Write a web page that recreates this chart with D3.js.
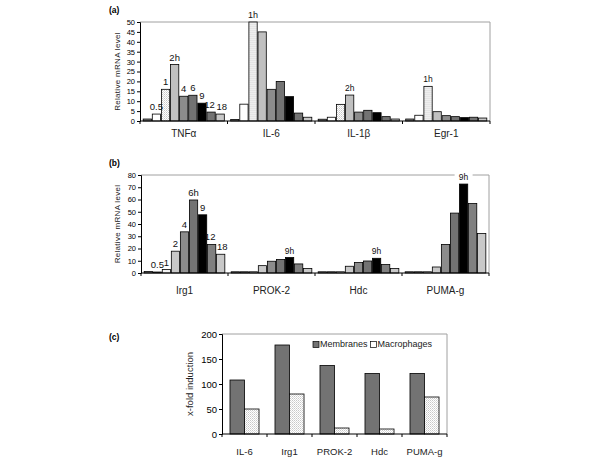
<!DOCTYPE html>
<html><head><meta charset="utf-8">
<script src="https://cdn.jsdelivr.net/npm/d3@7"></script>
<style>body{margin:0;background:#fff}svg{display:block;font-family:"Liberation Sans",Arial,sans-serif}</style>
</head><body>
<script>
// ---- data ----
const timepoints = ["0","0.5","1","2","4","6","9","12","18"];
const genesA = ["TNFα","IL-6","IL-1β","Egr-1"];
const TNFa = [1, 3.5, 16, 28.5, 12.5, 13, 9, 4.5, 3.5];
const IL6  = [0.8, 8.5, 50, 45, 16, 20, 12.3, 4, 1.9];
const IL1b = [0.9, 1.9, 8.4, 13.1, 4.5, 5.4, 4.2, 2.2, 1.0];
const Egr1 = [1.0, 2.9, 17.5, 4.7, 2.7, 2.2, 1.7, 1.9, 1.5];
const labelsTNFa = ["","0.5","1","2h","4","6","9","12","18"];
const labelsIL6  = ["","","1h","","","","","",""];
const labelsIL1b = ["","","","2h","","","","",""];
const labelsEgr1 = ["","","1h","","","","","",""];

const genesB = ["Irg1","PROK-2","Hdc","PUMA-g"];
const Irg1  = [1.2, 0.8, 2.8, 17.8, 33.6, 59.6, 47.5, 23.3, 15.3];
const PROK2 = [1, 1, 1, 6, 9.6, 11, 12.6, 7.4, 3.6];
const Hdc   = [1, 1, 1, 5.5, 8.5, 9.8, 12, 6.9, 3.6];
const PUMAg = [1, 1, 1, 4.9, 23.3, 48.9, 72.6, 56.7, 32.2];
const labelsIrg1  = ["","0.5","1","2","4","6h","9","12","18"];
const labelsPROK2 = ["","","","","","","9h","",""];
const labelsHdc   = ["","","","","","","9h","",""];
const labelsPUMAg = ["","","","","","","9h","",""];

const genesC = ["IL-6","Irg1","PROK-2","Hdc","PUMA-g"];
const seriesC = ["Membranes","Macrophages"];
const membranes   = [108, 178, 137, 121, 121];
const macrophages = [50, 80, 12, 10, 74];

const ticksA = [0,5,10,15,20,25,30,35,40,45,50];
const ticksB = [0,10,20,30,40,50,60,70,80];
const ticksC = [0,50,100,150,200];

const colorsA = ["#8c8c8c","#ffffff","url(#dots)","#c0c0c0","#8c8c8c","#737373","#000000","#737373","#c8c8c8"];
const colorsB = ["#9a9a9a","#8c8c8c","#f2f2f2","#c8c8c8","#8c8c8c","#737373","#000000","#808080","#c8c8c8"];
const colorsC = ["#737373","url(#dots)"];

// ---- svg ----
const svg = d3.select("body").append("svg").attr("width",600).attr("height",463);
const defs = svg.append("defs");
const pat = defs.append("pattern").attr("id","dots").attr("patternUnits","userSpaceOnUse").attr("width",2).attr("height",2);
pat.append("rect").attr("width",2).attr("height",2).attr("fill","#ffffff");
pat.append("rect").attr("width",1).attr("height",1).attr("fill","#c8c8c8");
pat.append("rect").attr("x",1).attr("y",1).attr("width",1).attr("height",1).attr("fill","#dddddd");

function frame(g, x0, x1, y0, y1){
  g.append("path").attr("d",`M${x0},${y0}H${x1}V${y1}`).attr("fill","none").attr("stroke","#a0a0a0").attr("stroke-width",1);
}

function yAxis(g, y, x0, ticks, fs){
  g.append("g").attr("transform",`translate(${x0},0)`)
   .call(d3.axisLeft(y).tickValues(ticks).tickSize(3).tickPadding(2).tickFormat(d3.format("d")))
   .call(s=>{s.select(".domain").attr("stroke","#000");s.selectAll(".tick line").attr("stroke","#000");
     s.selectAll("text").attr("font-size",fs).attr("fill","#000").attr("font-family","Liberation Sans, Arial");});
}
function xAxis(g, x, y0, cats, fs, labY){
  const ax = g.append("g").attr("transform",`translate(0,${y0})`);
  const r = x.range();
  ax.append("line").attr("x1",r[0]).attr("x2",r[1]).attr("stroke","#000");
  const bounds = cats.map(c=>x(c)).concat([r[1]]);
  ax.selectAll("line.tk").data(bounds).join("line").attr("class","tk")
    .attr("x1",d=>d).attr("x2",d=>d).attr("y1",0).attr("y2",3).attr("stroke","#000");
  g.selectAll(null).data(cats).join("text")
    .attr("x",d=>x(d)+x.bandwidth()/2).attr("y",labY).attr("text-anchor","middle")
    .attr("dominant-baseline","middle").attr("font-size",fs).attr("fill","#222").text(d=>d);
}

function timePanel(opt){
  const g = svg.append("g");
  const x = d3.scaleBand().domain(opt.genes).range([opt.x0,opt.x1]).padding(0);
  const xi = d3.scaleBand().domain(timepoints).range([0,x.bandwidth()]).paddingInner(0.09).paddingOuter(0.35);
  const y = d3.scaleLinear().domain([0,opt.max]).range([opt.y1,opt.y0]);
  frame(g, opt.x0, opt.x1, opt.y0, opt.y1);
  opt.genes.forEach((gene,gi)=>{
    const vals = opt.values[gi], labs = opt.labels[gi];
    const gg = g.append("g").attr("transform",`translate(${x(gene)},0)`);
    gg.selectAll("rect").data(vals).join("rect")
      .attr("x",(d,i)=>xi(timepoints[i])).attr("width",xi.bandwidth())
      .attr("y",d=>y(d)).attr("height",d=>y(0)-y(d))
      .attr("fill",(d,i)=>opt.colors[i]).attr("stroke","#000").attr("stroke-width",0.8);
    vals.forEach((v,i)=>{
      if(!labs[i]) return;
      let cx = xi(timepoints[i])+xi.bandwidth()/2;
      if(i===7) cx -= 1.5;
      if(i===8) cx += 1.5;
      const fs = opt.labelSize[gi];
      const ty = y(v)-4;
      if(opt.bgLabel && opt.bgLabel[gi]){
        gg.append("rect").attr("x",cx-9).attr("y",ty-fs+1).attr("width",18).attr("height",fs+1).attr("fill","#fff");
      }
      gg.append("text").attr("x",cx).attr("y",ty).attr("text-anchor","middle")
        .attr("font-size",fs).attr("fill","#111").text(labs[i]);
    });
  });
  yAxis(g, y, opt.x0, opt.ticks, 7.5);
  xAxis(g, x, opt.y1, opt.genes, 10, opt.catY);
  g.append("text").attr("transform",`translate(${opt.ylabX},${(opt.y0+opt.y1)/2}) rotate(-90)`)
    .attr("text-anchor","middle").attr("dominant-baseline","middle").attr("font-size",8).attr("fill","#222")
    .attr("letter-spacing",0.3).text("Relative mRNA level");
  g.append("text").attr("x",109).attr("y",opt.tagY).attr("font-size",8.5).attr("font-weight","bold").text(opt.tag);
}

timePanel({genes:genesA, values:[TNFa,IL6,IL1b,Egr1], labels:[labelsTNFa,labelsIL6,labelsIL1b,labelsEgr1],
  labelSize:[9.5,9,8.5,8.5], colors:colorsA, x0:140, x1:490, y0:22, y1:121, max:50, ticks:ticksA,
  catY:134, ylabX:118, tag:"(a)", tagY:13});
timePanel({genes:genesB, values:[Irg1,PROK2,Hdc,PUMAg], labels:[labelsIrg1,labelsPROK2,labelsHdc,labelsPUMAg],
  labelSize:[9.5,8.5,8.5,8.5], colors:colorsB, x0:141, x1:489, y0:175, y1:273, max:80, ticks:ticksB,
  catY:291, ylabX:118, tag:"(b)", tagY:166, bgLabel:[false,false,false,true]});

// panel c
(function(){
  const g = svg.append("g");
  const x0=222, x1=447, y0=334, y1=434;
  const x = d3.scaleBand().domain(genesC).range([x0,x1]).padding(0);
  const xi = d3.scaleBand().domain(seriesC).range([0,x.bandwidth()]).paddingInner(0).paddingOuter(0.55);
  const y = d3.scaleLinear().domain([0,200]).range([y1,y0]);
  frame(g,x0,x1,y0,y1);
  const vals = [membranes, macrophages];
  seriesC.forEach((s,si)=>{
    g.selectAll(null).data(vals[si]).join("rect")
      .attr("x",(d,i)=>x(genesC[i])+xi(s)).attr("width",xi.bandwidth())
      .attr("y",d=>y(d)).attr("height",d=>y(0)-y(d))
      .attr("fill",colorsC[si]).attr("stroke","#000").attr("stroke-width",0.8);
  });
  yAxis(g,y,x0,ticksC,9.5);
  xAxis(g,x,y1,genesC,9.5,452);
  g.append("text").attr("transform",`translate(190,${(y0+y1)/2}) rotate(-90)`)
    .attr("text-anchor","middle").attr("dominant-baseline","middle").attr("font-size",9.5).attr("fill","#222")
    .text("x-fold induction");
  g.append("text").attr("x",109).attr("y",340).attr("font-size",8.5).attr("font-weight","bold").text("(c)");
  // legend
  let lx = 313;
  seriesC.forEach((s,si)=>{
    g.append("rect").attr("x",lx).attr("y",341.5).attr("width",6).attr("height",6)
      .attr("fill",si===0?colorsC[0]:"#fff").attr("stroke","#000").attr("stroke-width",0.7);
    const t = g.append("text").attr("x",lx+7).attr("y",345).attr("dominant-baseline","middle")
      .attr("font-size",9).attr("fill","#222").text(s);
    lx += 7 + t.node().getComputedTextLength() + 3;
  });
})();
</script>
</body></html>
